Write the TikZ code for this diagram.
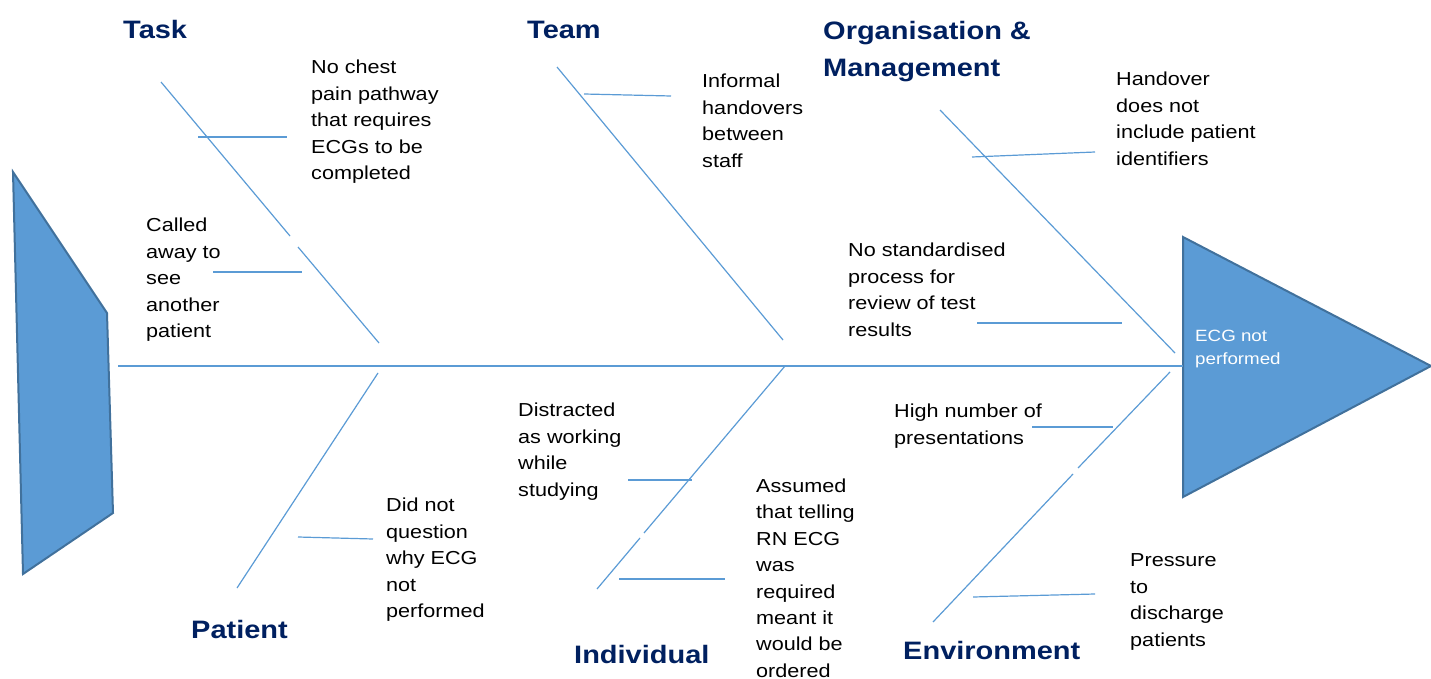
\documentclass[tikz,border=0pt]{standalone}
\usepackage{fontspec}
\setmainfont{Liberation Sans}[FakeStretch=1.15]
\definecolor{fishblue}{HTML}{5B9BD5}
\definecolor{fishedge}{HTML}{41719C}
\definecolor{boneblue}{HTML}{5B9BD5}
\definecolor{navy}{HTML}{002060}
\begin{document}
\begin{tikzpicture}[x=1pt,y=-1pt,
  bone/.style={draw=boneblue, line width=1.2pt},
  fishpart/.style={fill=fishblue, draw=fishedge, line width=2pt, line join=miter},
  heading/.style={anchor=north west, inner sep=0pt, align=left, text=navy,
    font=\fontsize{25.2}{37}\selectfont\bfseries},
  cause/.style={anchor=north west, inner sep=0pt, align=left,
    font=\fontsize{18.8}{26.4}\selectfont},
  effecttext/.style={anchor=north west, inner sep=0pt, align=left, text=white,
    font=\fontsize{16.3}{23}\selectfont},
]
\useasboundingbox (0,0) rectangle (1431,679);

% tail and head of the fish
\draw[fishpart] (13,172) coordinate (t1) -- (107,313) -- (113,513) -- (23,574) -- cycle;
\draw[fishpart] (1183,237) coordinate (h1) -- (1431,366) coordinate (tip) -- (1183,497) -- cycle;
\coordinate (tail) at (118,366);
\coordinate (head) at (1183,366);

% spine
\draw[bone] (tail) -- (head);

% upper bones
\coordinate (taskA) at (161,82);   \coordinate (taskB) at (290,236);
\coordinate (taskC) at (298,247);  \coordinate (taskD) at (379,343);
\draw[bone] (taskA) -- (taskB);
\draw[bone] (taskC) -- (taskD);
\coordinate (tw1a) at (198,137); \coordinate (tw1b) at (287,137);
\coordinate (tw2a) at (213,272); \coordinate (tw2b) at (302,272);
\draw[bone] (tw1a) -- (tw1b);
\draw[bone] (tw2a) -- (tw2b);

\coordinate (teamA) at (557,67);   \coordinate (teamB) at (783,340);
\draw[bone] (teamA) -- (teamB);
\coordinate (tw3a) at (584,94);  \coordinate (tw3b) at (671,96);
\draw[bone] (tw3a) -- (tw3b);

\coordinate (orgA) at (940,110);   \coordinate (orgB) at (1175,353);
\draw[bone] (orgA) -- (orgB);
\coordinate (tw4a) at (972,157);  \coordinate (tw4b) at (1095,152);
\coordinate (tw5a) at (977,323);  \coordinate (tw5b) at (1122,323);
\draw[bone] (tw4a) -- (tw4b);
\draw[bone] (tw5a) -- (tw5b);

% lower bones
\coordinate (patA) at (378,373);   \coordinate (patB) at (237,588);
\draw[bone] (patA) -- (patB);
\coordinate (tw6a) at (298,537);  \coordinate (tw6b) at (373,539);
\draw[bone] (tw6a) -- (tw6b);

\coordinate (indA) at (785,366);   \coordinate (indB) at (644,533);
\coordinate (indC) at (640,538);   \coordinate (indD) at (597,589);
\draw[bone] (indA) -- (indB);
\draw[bone] (indC) -- (indD);
\coordinate (tw7a) at (628,480);  \coordinate (tw7b) at (692,480);
\coordinate (tw8a) at (619,579);  \coordinate (tw8b) at (725,579);
\draw[bone] (tw7a) -- (tw7b);
\draw[bone] (tw8a) -- (tw8b);

\coordinate (envA) at (1170,372);  \coordinate (envB) at (1078,468);
\coordinate (envC) at (1073,474);  \coordinate (envD) at (933,622);
\draw[bone] (envA) -- (envB);
\draw[bone] (envC) -- (envD);
\coordinate (tw9a) at (1032,427);  \coordinate (tw9b) at (1113,427);
\coordinate (tw10a) at (973,597);  \coordinate (tw10b) at (1095,594);
\draw[bone] (tw9a) -- (tw9b);
\draw[bone] (tw10a) -- (tw10b);

% category headings
\node[heading] (hTask) at (123,12) {\strut Task};
\node[heading] (hTeam) at (527,12) {\strut Team};
\node[heading] (hOrg) at (823,13) {\strut Organisation \&\\Management};
\node[heading] (hPatient) at (191,612) {\strut Patient};
\node[heading] (hInd) at (574,637) {\strut Individual};
\node[heading] (hEnv) at (903,633) {\strut Environment};

% contributing causes
\node[cause] (c1) at (311,55.2) {\strut No chest\\pain pathway\\that requires\\ECGs to be\\completed};
\node[cause] (c2) at (146,213.2) {\strut Called\\away to\\see\\another\\patient};
\node[cause] (c3) at (702,69.2) {\strut Informal\\handovers\\between\\staff};
\node[cause] (c4) at (1116,67.2) {\strut Handover\\does not\\include patient\\identifiers};
\node[cause] (c5) at (848,238.2) {\strut No standardised\\process for\\review of test\\results};
\node[cause] (c6) at (894,399.2) {\strut High number of\\presentations};
\node[cause] (c7) at (518,398.2) {\strut Distracted\\as working\\while\\studying};
\node[cause] (c8) at (756,473.8) {\strut Assumed\\that telling\\RN ECG\\was\\required\\meant it\\would be\\ordered};
\node[cause] (c9) at (386,493.2) {\strut Did not\\question\\why ECG\\not\\performed};
\node[cause] (c10) at (1130,548.2) {\strut Pressure\\to\\discharge\\patients};

% effect
\node[effecttext] (effect) at (1195,324.9) {\strut ECG not\\performed};
\end{tikzpicture}
\end{document}
